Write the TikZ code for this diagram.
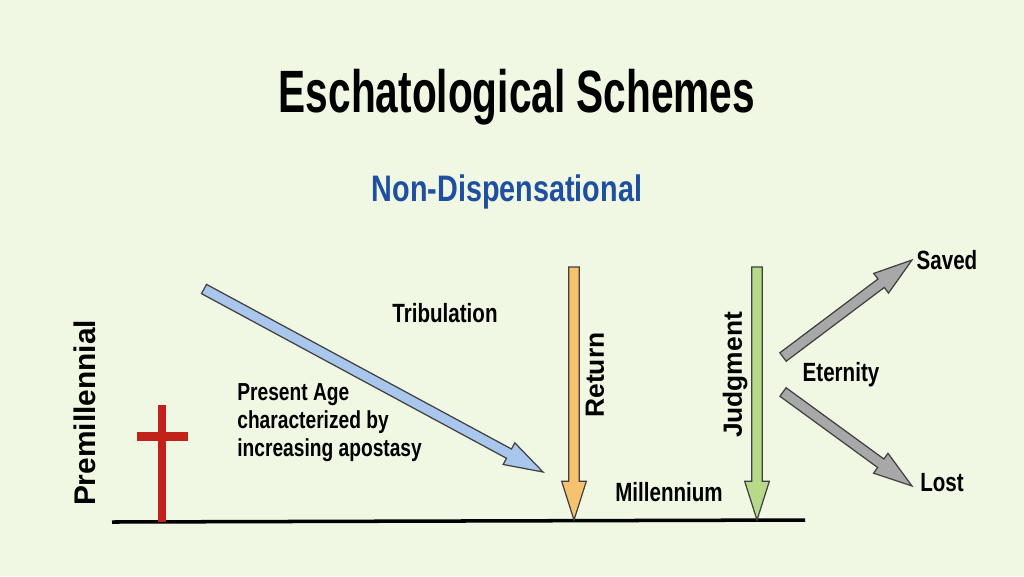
\documentclass[tikz,border=0pt]{standalone}
\usepackage{fontspec}
\setmainfont{Liberation Sans}
\newfontfamily\narrowfont[FakeStretch=0.78]{Liberation Sans}
\newfontfamily\titlefont[FakeStretch=0.68]{Liberation Sans}
\usetikzlibrary{positioning,calc}
\definecolor{bgcol}{HTML}{F0F7E2}
\definecolor{titleblue}{HTML}{1F4FA0}
\definecolor{crossred}{HTML}{C3221B}
\definecolor{arrblue}{HTML}{A9C6EC}
\definecolor{arrorange}{HTML}{F6C26E}
\definecolor{arrgreen}{HTML}{B7D98A}
\definecolor{arrgray}{HTML}{A8A8A8}
% big filled arrow between two named coordinates
\newcommand\bigarrow[3]{%
  \fill[#3,draw=black!75,line width=.7pt]
    ($(#1)!3pt!90:(#2)$) -- ($($(#2)!22pt!(#1)$)!3pt!-90:(#1)$)
    -- ($($(#2)!22pt!(#1)$)!7pt!-90:(#1)$) -- (#2)
    -- ($($(#2)!22pt!(#1)$)!7pt!90:(#1)$)
    -- ($($(#2)!22pt!(#1)$)!3pt!90:(#1)$) -- ($(#1)!3pt!-90:(#2)$) -- cycle;}
\begin{document}
\begin{tikzpicture}[x=0.02cm,y=-0.02cm,
    label/.style={font=\narrowfont\fontsize{15}{17}\selectfont\bfseries,inner sep=0pt},
    sidelabel/.style={font=\fontsize{15}{17}\selectfont\bfseries,inner sep=0pt,rotate=90}]
  \fill[bgcol] (0,0) rectangle (1024,576);
  \useasboundingbox (0,0) rectangle (1024,576);

  % titles
  \node[font=\titlefont\fontsize{34}{36}\selectfont\bfseries] (title) at (517,97) {Eschatological Schemes};
  \node[font=\narrowfont\fontsize{21}{24}\selectfont\bfseries,text=titleblue] (sub) at (507,192) {Non-Dispensational};

  % time line and cross
  \coordinate (start) at (112,522);
  \coordinate (stop) at (805,520);
  \draw[line width=2pt] (start) -- (stop);
  \fill[crossred] (158,405) rectangle (166,522);
  \fill[crossred] (137,432) rectangle (188,441);

  \node[sidelabel,font=\fontsize{17}{19}\selectfont\bfseries] (premil) at (85,413) {Premillennial};

  % arrows
  \coordinate (ageA) at (204,289);  \coordinate (ageB) at (543,472);
  \coordinate (retA) at (574,267);  \coordinate (retB) at (574,520);
  \coordinate (judA) at (757,267);  \coordinate (judB) at (757,520);
  \coordinate (etA) at (783,357);   \coordinate (etB) at (912,260);
  \coordinate (etC) at (783,392);   \coordinate (etD) at (912,486);
  \bigarrow{ageA}{ageB}{arrblue}
  \bigarrow{retA}{retB}{arrorange}
  \bigarrow{judA}{judB}{arrgreen}
  \bigarrow{etA}{etB}{arrgray}
  \bigarrow{etC}{etD}{arrgray}

  % labels
  \node[label] (trib) at (445,313) {Tribulation};
  \node[label,align=left,anchor=west,font=\narrowfont\fontsize{14}{16}\selectfont\bfseries] (age) at (237,423)
    {Present Age\\characterized by\\increasing apostasy};
  \node[sidelabel] (ret) at (595,375) {Return};
  \node[label] (mil) at (669,492) {Millennium};
  \node[sidelabel] (jud) at (735,375) {Judgment};
  \node[label] (etern) at (841,375) {Eternity};
  \node[label] (saved) at (947,260) {Saved};
  \node[label] (lost) at (942,483) {Lost};
\end{tikzpicture}
\end{document}
